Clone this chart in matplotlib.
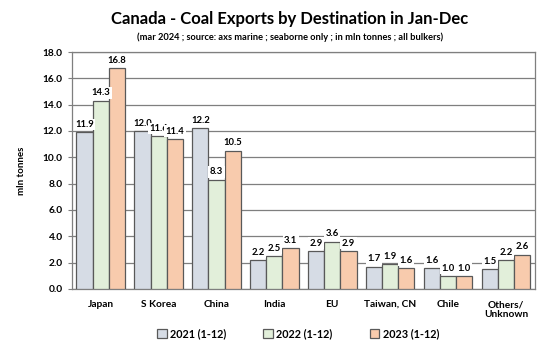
import numpy as np
import matplotlib.pyplot as plt

# data
destinations = ['Japan', 'S Korea', 'China', 'India', 'EU', 'Taiwan, CN', 'Chile', 'Others/\nUnknown']
exports_2021 = [11.9, 12.0, 12.2, 2.2, 2.9, 1.7, 1.6, 1.5]
exports_2022 = [14.3, 11.6, 8.3, 2.5, 3.6, 1.9, 1.0, 2.2]
exports_2023 = [16.8, 11.4, 10.5, 3.1, 2.9, 1.6, 1.0, 2.6]
series_labels = ['2021 (1-12)', '2022 (1-12)', '2023 (1-12)']
colors = ['#D6DCE5', '#E2EFDA', '#F8CBAD']

plt.rcParams['font.family'] = ['Lato', 'DejaVu Sans']
plt.rcParams['font.weight'] = 'bold'

fig = plt.figure(figsize=(5.48, 3.49), dpi=100)
ax = fig.add_axes([0.131, 0.172, 0.845, 0.679])

x = np.arange(len(destinations))
w = 0.28
for i, (vals, lab, c) in enumerate(zip([exports_2021, exports_2022, exports_2023], series_labels, colors)):
    xs = x + (i - 1) * w
    ax.bar(xs, vals, w, color=c, edgecolor='#595959', linewidth=0.9, label=lab, zorder=3)
    for xi, v in zip(xs, vals):
        ax.text(xi, v + 0.25, f'{v:.1f}', ha='center', va='bottom', fontsize=6.8,
                fontweight='bold', zorder=4,
                bbox=dict(boxstyle='square,pad=0.15', fc='white', ec='none'))

ax.set_ylim(0, 18)
ax.set_yticks(np.arange(0, 18.1, 2))
ax.set_yticklabels([f'{t:.1f}' for t in np.arange(0, 18.1, 2)])
ax.set_xlim(-0.5, len(destinations) - 0.5)
ax.set_xticks(x)
ax.set_xticklabels(destinations, fontsize=7.3, fontweight='bold')
ax.tick_params(axis='x', length=0, pad=8)
ax.tick_params(axis='y', labelsize=7.3, length=3, color='#7f7f7f', direction='out')
ax.yaxis.grid(True, color='#7f7f7f', linewidth=0.9, zorder=0)
for s in ax.spines.values():
    s.set_color('#7f7f7f')
    s.set_linewidth(0.9)
ax.set_ylabel('mln tonnes', fontsize=7, fontweight='bold', labelpad=12)

fig.text(0.529, 0.945, 'Canada - Coal Exports by Destination in Jan-Dec', ha='center',
         va='center', fontsize=12, fontweight='bold')
fig.text(0.529, 0.893, '(mar 2024 ; source: axs marine ; seaborne only ; in mln tonnes ; all bulkers)',
         ha='center', va='center', fontsize=6.7, fontweight='bold')

fig.legend(loc='center', bbox_to_anchor=(0.544, 0.043), ncol=3, frameon=False,
           fontsize=7.8, handlelength=0.9, handleheight=0.9, columnspacing=3.4,
           handletextpad=0.3)

fig.savefig('out.png', dpi=100)
